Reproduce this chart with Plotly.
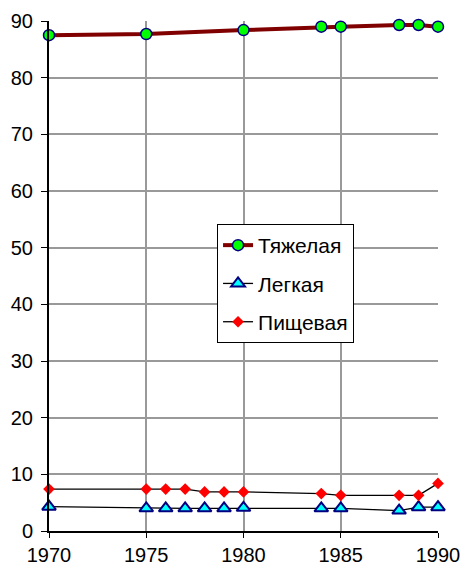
import plotly.graph_objects as go

years = [1970, 1975, 1976, 1977, 1978, 1979, 1980, 1984, 1985, 1988, 1989, 1990]
heavy_years = [1970, 1975, 1980, 1984, 1985, 1988, 1989, 1990]
heavy = [87.5, 87.7, 88.4, 89.0, 89.0, 89.3, 89.3, 89.0]
light = [4.3, 4.0, 4.0, 4.0, 4.0, 4.0, 4.1, 4.0, 4.0, 3.6, 4.2, 4.2]
food = [7.4, 7.4, 7.4, 7.4, 6.9, 6.9, 6.9, 6.6, 6.3, 6.3, 6.3, 8.4]
names = ["Тяжелая", "Легкая", "Пищевая"]
x_ticks = [1970, 1975, 1980, 1985, 1990]
y_ticks = list(range(0, 91, 10))

fig = go.Figure()
fig.add_trace(go.Scatter(
    x=heavy_years, y=heavy, name=names[0], mode="lines+markers",
    line=dict(color="#800000", width=4),
    marker=dict(symbol="circle", size=11, color="#00FF00", line=dict(color="#000080", width=1.5)),
    cliponaxis=False, legendgroup="a"))
fig.add_trace(go.Scatter(
    x=years, y=light, name=names[1], mode="lines+markers",
    line=dict(color="#000000", width=1.3),
    marker=dict(symbol="triangle-up", size=12, color="#00FFFF", line=dict(color="#000080", width=2)),
    cliponaxis=False, legendgroup="b"))
fig.add_trace(go.Scatter(
    x=years, y=food, name=names[2], mode="lines+markers",
    line=dict(color="#000000", width=1.3),
    marker=dict(symbol="diamond", size=9, color="#FF0000", line=dict(color="#FF0000", width=0)),
    cliponaxis=False, legendgroup="c"))

fig.update_layout(
    width=462, height=566,
    margin=dict(l=49, r=24, t=21, b=35, autoexpand=False),
    paper_bgcolor="white", plot_bgcolor="white",
    font=dict(family="Liberation Sans, Arial, sans-serif", size=20, color="black"),
    showlegend=True,
    legend=dict(x=0.432, y=0.602, xanchor="left", yanchor="top",
                bordercolor="black", borderwidth=1, bgcolor="white",
                font=dict(size=21), traceorder="grouped", tracegroupgap=8,
                entrywidth=150, entrywidthmode="pixels"),
    xaxis=dict(range=[1970, 1990], tickvals=x_ticks, showgrid=True, automargin=False,
               gridcolor="#999999", gridwidth=1.5, showline=True, linecolor="black",
               linewidth=2, ticks="outside", ticklen=5, tickcolor="black", zeroline=False),
    yaxis=dict(range=[0, 90], tickvals=y_ticks, showgrid=True, automargin=False,
               gridcolor="#999999", gridwidth=1.5, showline=True, linecolor="black",
               linewidth=2, ticks="outside", ticklen=6, tickcolor="black", zeroline=False,
               ticklabelstandoff=4),
)
fig.write_html("out.html", config={"displayModeBar": False},
               post_script="document.body.style.margin='0';document.body.style.overflow='hidden';")
